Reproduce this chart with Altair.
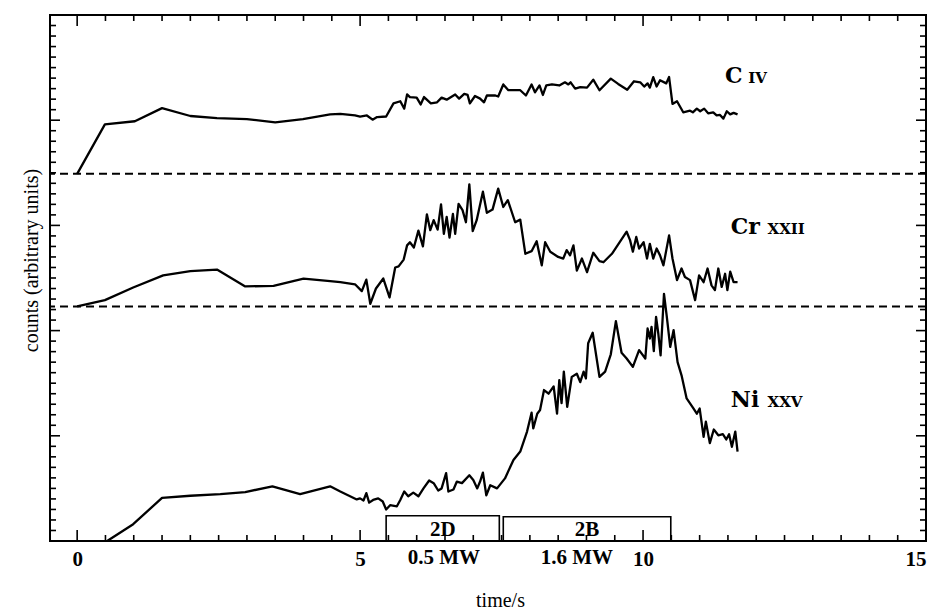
import altair as alt
import numpy as np
import pandas as pd

# ---------------- data (time in s, counts in arbitrary units) ----------------
civ_t = [0.0, 0.49, 1.02, 1.50, 2.00, 2.47, 3.00, 3.50, 3.99, 4.47, 4.65, 4.91, 5.00, 5.12, 5.22, 5.30,
         5.46, 5.59, 5.71, 5.78, 5.83, 5.88, 6.00, 6.07, 6.13, 6.25, 6.36, 6.44, 6.53, 6.68, 6.75, 6.84,
         6.90, 6.94, 7.03, 7.12, 7.19, 7.24, 7.39, 7.44, 7.53, 7.62, 7.83, 7.93, 8.03, 8.09, 8.17, 8.23,
         8.29, 8.39, 8.52, 8.62, 8.68, 8.72, 8.80, 8.89, 9.01, 9.12, 9.23, 9.43, 9.56, 9.72, 9.84, 9.95,
         10.02, 10.08, 10.12, 10.18, 10.24, 10.30, 10.41, 10.46, 10.52, 10.60, 10.71, 10.83, 10.88, 10.95,
         11.01, 11.08, 11.15, 11.24, 11.30, 11.36, 11.42, 11.48, 11.54, 11.60, 11.67]
civ_y = [34.9, 39.6, 39.9, 41.15, 40.4, 40.2, 40.1, 39.8, 40.1, 40.55, 40.6, 40.45, 40.35, 40.45, 40.05, 40.3,
         40.35, 41.6, 41.8, 41.1, 42.45, 42.2, 42.15, 41.5, 42.2, 41.6, 41.7, 42.15, 41.95, 42.45, 42.05, 42.5,
         42.4, 41.6, 42.3, 42.05, 41.7, 42.35, 42.35, 42.25, 43.4, 42.85, 42.85, 42.35, 43.4, 42.65, 43.3, 42.4,
         43.3, 43.4, 43.3, 43.6, 43.4, 43.6, 43.0, 43.15, 43.1, 43.85, 42.85, 43.95, 43.45, 42.9, 43.7, 43.6,
         43.2, 43.5, 43.1, 44.1, 43.2, 43.8, 43.5, 44.1, 41.55, 41.8, 40.75, 40.9, 40.75, 41.1,
         40.85, 41.1, 40.65, 40.75, 40.45, 40.5, 40.15, 40.85, 40.55, 40.7, 40.55]

crxxii_t = [0.0, 0.49, 0.99, 1.52, 2.00, 2.47, 2.97, 3.47, 4.00, 4.47, 4.65, 4.91, 5.03, 5.11, 5.18, 5.28,
            5.41, 5.52, 5.62, 5.68, 5.77, 5.83, 5.88, 5.95, 6.03, 6.11, 6.18, 6.24, 6.30, 6.37, 6.43, 6.48,
            6.53, 6.58, 6.64, 6.68, 6.74, 6.81, 6.87, 6.93, 6.99, 7.06, 7.17, 7.24, 7.34, 7.44, 7.53, 7.61,
            7.74, 7.83, 7.92, 8.03, 8.12, 8.21, 8.27, 8.36, 8.50, 8.59, 8.65, 8.71, 8.77, 8.83, 8.92, 9.01,
            9.12, 9.23, 9.30, 9.45, 9.71, 9.77, 9.82, 9.88, 9.93, 10.01, 10.07, 10.12, 10.18, 10.24, 10.30,
            10.36, 10.46, 10.52, 10.60, 10.68, 10.74, 10.83, 10.92, 10.99, 11.07, 11.14, 11.21, 11.27, 11.33,
            11.39, 11.45, 11.49, 11.54, 11.60, 11.67]
crxxii_y = [22.3, 22.9, 24.1, 25.25, 25.65, 25.8, 24.2, 24.25, 24.95, 24.7, 24.6, 24.4, 23.75, 24.85, 22.55, 24.0,
            24.95, 23.15, 26.0, 26.1, 26.75, 28.1, 28.4, 27.9, 29.5, 28.0, 31.05, 29.55, 30.5, 29.6, 32.0, 29.2,
            30.8, 28.85, 31.1, 29.2, 32.05, 31.45, 30.3, 33.9, 29.45, 30.5, 33.2, 31.2, 31.5, 33.5, 31.75, 32.4,
            30.3, 30.55, 27.3, 27.55, 28.5, 26.2, 28.4, 27.5, 27.0, 26.85, 27.65, 27.15, 28.1, 25.7, 26.85, 25.55,
            27.4, 26.6, 26.5, 27.3, 29.4, 28.6, 27.5, 28.9, 27.8, 28.4, 26.85, 28.25, 26.85, 27.8, 27.15,
            26.2, 29.05, 26.85, 24.8, 25.9, 25.1, 24.8, 22.9, 25.25, 24.6, 25.9, 24.3, 23.85, 25.9,
            24.15, 25.4, 23.85, 25.6, 24.6, 24.6]

nixxv_t = [0.53, 0.99, 1.50, 2.00, 2.53, 2.97, 3.45, 3.94, 4.47, 4.65, 4.94, 5.00, 5.06, 5.11, 5.16, 5.23,
           5.32, 5.40, 5.46, 5.53, 5.65, 5.71, 5.78, 5.85, 5.94, 6.03, 6.12, 6.22, 6.30, 6.38, 6.44, 6.52,
           6.56, 6.65, 6.71, 6.80, 6.93, 7.00, 7.07, 7.12, 7.17, 7.23, 7.30, 7.42, 7.56, 7.71, 7.83, 7.95,
           8.03, 8.06, 8.13, 8.18, 8.25, 8.33, 8.42, 8.48, 8.52, 8.56, 8.60, 8.66, 8.74, 8.83, 8.89, 8.95,
           8.99, 9.03, 9.11, 9.23, 9.33, 9.43, 9.52, 9.62, 9.71, 9.82, 9.93, 10.04, 10.08, 10.12, 10.15,
           10.19, 10.23, 10.27, 10.31, 10.37, 10.42, 10.48, 10.54, 10.61, 10.68, 10.77, 10.89, 10.95, 11.00,
           11.07, 11.11, 11.18, 11.25, 11.33, 11.41, 11.47, 11.52, 11.57, 11.63, 11.67]
nixxv_y = [0.0, 1.6, 4.1, 4.3, 4.45, 4.65, 5.2, 4.45, 5.2, 4.7, 3.95, 4.05, 3.85, 4.55, 3.65, 3.9,
           4.05, 3.75, 3.0, 3.4, 3.3, 3.9, 4.7, 4.25, 4.6, 4.25, 5.0, 5.75, 5.5, 4.8, 5.0, 6.45,
           4.7, 4.9, 5.65, 5.5, 6.25, 5.8, 5.0, 5.65, 6.5, 4.35, 5.3, 5.0, 5.95, 7.7, 8.5, 10.4,
           12.2, 10.7, 12.1, 12.45, 14.35, 14.0, 14.7, 12.1, 15.3, 13.1, 16.1, 12.75, 15.6, 15.9, 15.1, 16.1,
           15.45, 18.8, 19.8, 15.6, 16.1, 17.75, 20.9, 17.9, 17.35, 16.55, 18.15, 17.35, 20.2, 19.25, 20.35,
           18.05, 21.3, 19.7, 17.65, 23.5, 21.3, 18.45, 20.05, 17.0, 15.75, 13.55, 12.6, 12.1, 12.6,
           9.9, 11.35, 9.3, 10.6, 10.05, 10.15, 9.65, 10.15, 8.95, 10.4, 8.5]

# separating (dashed) baselines of the upper two traces
offset_levels = [34.9, 22.3]

# series labels: element + ionisation stage (small caps)
label_element = ["C", "Cr", "Ni"]
label_stage = ["IV", "XXII", "XXV"]
label_x = [11.45, 11.55, 11.55]
label_stage_x = [11.86, 12.2, 12.2]
label_y = [43.5, 29.2, 12.7]

# heating phases
phase_name = ["2D", "2B"]
phase_start = [5.46, 7.53]
phase_end = [7.46, 10.49]
phase_top = [2.4, 2.3]
phase_power = ["0.5 MW", "1.6 MW"]
phase_power_x = [6.48, 8.83]

# axis ticks
x_major = [0, 5, 10, 15]
x_minor = [v for v in np.arange(0, 15.01, 0.5) if v not in x_major]
y_major = [10, 20, 30, 40]
y_minor = [v for v in range(1, 50) if v not in y_major]

# ---------------- chart ----------------
W, H = 876, 526
FONT = "Liberation Serif"
LFONT = "DejaVu Serif"
xs = alt.Scale(domain=[-0.48, 15], nice=False, zero=False)
ys = alt.Scale(domain=[0, 50], nice=False, zero=False)

x_axis = alt.Axis(
    values=x_major, ticks=False, domain=False, grid=False, format="d",
    labelFont=FONT, labelFontSize=21, labelFontWeight="bold", labelColor="black", labelPadding=7,
    title="time/s", titleFont=FONT, titleFontSize=20, titleFontWeight="normal",
    titleColor="black", titlePadding=21, titleX=450)
y_axis = alt.Axis(
    labels=False, ticks=False, domain=False, grid=False,
    title="counts (arbitrary units)", titleFont=FONT, titleFontSize=20,
    titleFontWeight="normal", titleColor="black", titlePadding=9, titleY=245)


def X(field):
    return alt.X(field, scale=xs, axis=x_axis)


def Y(field):
    return alt.Y(field, scale=ys, axis=y_axis)


df = pd.concat([
    pd.DataFrame({"t": civ_t, "c": civ_y, "s": "C IV"}),
    pd.DataFrame({"t": crxxii_t, "c": crxxii_y, "s": "Cr XXII"}),
    pd.DataFrame({"t": nixxv_t, "c": nixxv_y, "s": "Ni XXV"}),
])

lines = alt.Chart(df).mark_line(color="black", strokeWidth=2.3, strokeJoin="round").encode(
    x=X("t:Q"), y=Y("c:Q"), detail="s:N")

dashed = alt.Chart(pd.DataFrame({"v": offset_levels})).mark_rule(
    color="black", strokeWidth=2, strokeDash=[8, 5]).encode(y=Y("v:Q"))

phases = pd.DataFrame({"name": phase_name, "a": phase_start, "b": phase_end,
                       "top": phase_top, "p": phase_power, "px": phase_power_x})
phases["mid"] = (phases["a"] + phases["b"]) / 2
phases["zero"] = 0.0
phases["labely"] = 1.15
phases["py"] = -1.6

boxes = alt.Chart(phases).mark_rect(fillOpacity=0, stroke="black", strokeWidth=1.6).encode(
    x=X("a:Q"), x2="b:Q", y=Y("zero:Q"), y2="top:Q")
box_text = alt.Chart(phases).mark_text(font=FONT, fontSize=21, fontWeight="bold", baseline="middle",
                                       color="black", dy=1).encode(
    x=X("mid:Q"), y=Y("labely:Q"), text="name:N")
power_text = alt.Chart(phases).mark_text(font=FONT, fontSize=21, fontWeight="bold", baseline="middle",
                                         color="black").encode(
    x=X("px:Q"), y=Y("py:Q"), text="p:N")

labels = pd.DataFrame({"e": label_element, "st": label_stage, "x": label_x,
                       "xs": label_stage_x, "y": label_y})
el_text = alt.Chart(labels).mark_text(font=LFONT, fontSize=22, fontWeight="bold", align="left",
                                      baseline="alphabetic", color="black").encode(
    x=X("x:Q"), y=Y("y:Q"), text="e:N")
st_text = alt.Chart(labels).mark_text(font=LFONT, fontSize=15, fontWeight="bold", align="left",
                                      baseline="alphabetic", color="black").encode(
    x=X("xs:Q"), y=Y("y:Q"), text="st:N")


# inward ticks on all four sides
def xticks(vals, length):
    d = pd.DataFrame({"v": vals})
    bottom = alt.Chart(d).mark_rule(color="black", strokeWidth=1.6).encode(
        x=X("v:Q"), y=alt.value(H), y2=alt.value(H - length))
    top = alt.Chart(d).mark_rule(color="black", strokeWidth=1.6).encode(
        x=X("v:Q"), y=alt.value(0), y2=alt.value(length))
    return [bottom, top]


def yticks(vals, length):
    d = pd.DataFrame({"v": vals})
    left = alt.Chart(d).mark_rule(color="black", strokeWidth=1.6).encode(
        y=Y("v:Q"), x=alt.value(0), x2=alt.value(length))
    right = alt.Chart(d).mark_rule(color="black", strokeWidth=1.6).encode(
        y=Y("v:Q"), x=alt.value(W), x2=alt.value(W - length))
    return [left, right]


tick_layers = xticks(x_minor, 6) + xticks(x_major, 11) + yticks(y_minor, 6) + yticks(y_major, 10)

chart = alt.layer(
    lines, dashed, boxes, box_text, power_text, el_text, st_text, *tick_layers
).properties(
    width=W, height=H,
    padding={"left": 50, "top": 15, "right": 9, "bottom": 72},
    autosize=alt.AutoSizeParams(type="none"),
    background="white",
).configure_view(stroke="black", strokeWidth=2)

chart.save("out.html", embed_options={"renderer": "svg", "actions": False})
